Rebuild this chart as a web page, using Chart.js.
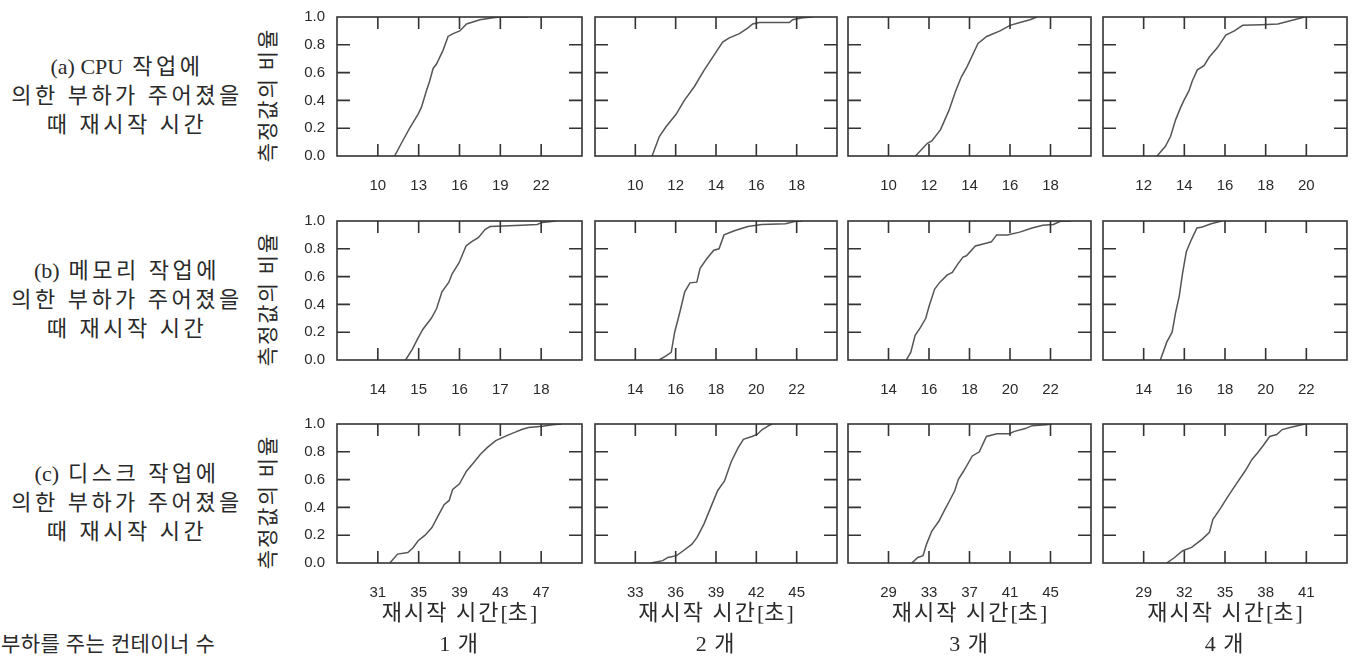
<!DOCTYPE html>
<html>
<head>
<meta charset="utf-8">
<script src="https://cdn.jsdelivr.net/npm/chart.js@4.4.0/dist/chart.umd.min.js"></script>
<style>
  body{margin:0;background:#fff;}
  #wrap{position:relative;width:1353px;height:664px;overflow:hidden;background:#fff;}
  #wrap canvas{position:absolute;}
  .lbl{position:absolute;font-family:'Liberation Serif','Noto Sans CJK KR',serif;font-size:22px;color:#2a2a2a;
       white-space:nowrap;letter-spacing:2px;transform:translate(-50%,-50%);line-height:1;}
  .lbl span{letter-spacing:0;}
  .row{letter-spacing:3.5px;}
  .left{transform:translate(0,-50%);letter-spacing:0.4px;font-size:21px;}
  .ytitle{position:absolute;font-family:'Noto Sans CJK KR',sans-serif;font-size:21px;color:#2a2a2a;white-space:nowrap;
       letter-spacing:2px;line-height:1;transform:translate(-50%,-50%) rotate(-90deg);}
</style>
</head>
<body>
<div id="wrap"></div>
<script>
// CPU load, 1..4 containers: restart time [s] vs cumulative share
const cpu1T = [11.23, 11.72, 12.34, 12.95, 13.2, 13.57, 13.81, 14.06, 14.3, 14.79, 15.16, 15.53, 16.02, 16.52, 17.5, 18.48, 18.97, 21.0];
const cpu1P = [0, 0.09, 0.2, 0.3, 0.35, 0.47, 0.54, 0.63, 0.66, 0.76, 0.86, 0.88, 0.9, 0.95, 0.98, 0.995, 1, 1];
const cpu2T = [10.83, 11.19, 11.52, 12.02, 12.43, 12.93, 13.42, 13.83, 14.33, 14.66, 15.16, 15.57, 15.82, 16.15, 17.64, 17.8, 18.3, 18.8];
const cpu2P = [0, 0.14, 0.21, 0.3, 0.4, 0.5, 0.62, 0.71, 0.82, 0.85, 0.88, 0.92, 0.95, 0.96, 0.96, 0.98, 0.995, 1];
const cpu3T = [11.33, 11.91, 12.15, 12.57, 12.99, 13.32, 13.6, 13.87, 14.42, 14.85, 15.51, 16.0, 16.49, 16.99, 17.32];
const cpu3P = [0, 0.09, 0.11, 0.19, 0.33, 0.47, 0.57, 0.64, 0.81, 0.86, 0.9, 0.94, 0.96, 0.98, 1];
const cpu4T = [12.66, 13.07, 13.32, 13.57, 13.82, 13.98, 14.23, 14.39, 14.64, 14.97, 15.22, 15.63, 16.04, 16.46, 16.87, 17.78, 18.6, 19.26, 19.92];
const cpu4P = [0, 0.07, 0.14, 0.26, 0.35, 0.4, 0.47, 0.54, 0.62, 0.65, 0.71, 0.78, 0.87, 0.9, 0.94, 0.945, 0.95, 0.975, 1];

// memory load
const mem1T = [14.68, 14.85, 14.97, 15.1, 15.31, 15.44, 15.57, 15.74, 15.82, 15.99, 16.16, 16.29, 16.46, 16.63, 16.75, 17.52, 17.9, 18.03, 18.36];
const mem1P = [0, 0.08, 0.15, 0.22, 0.3, 0.37, 0.49, 0.56, 0.62, 0.7, 0.82, 0.85, 0.88, 0.94, 0.96, 0.97, 0.975, 0.99, 1];
const mem2T = [15.18, 15.52, 15.78, 15.95, 16.2, 16.45, 16.71, 17.05, 17.21, 17.55, 17.89, 18.15, 18.4, 18.91, 19.58, 20.26, 21.45, 21.95, 22.3];
const mem2P = [0, 0.03, 0.055, 0.2, 0.34, 0.49, 0.555, 0.56, 0.66, 0.73, 0.79, 0.8, 0.9, 0.93, 0.96, 0.975, 0.98, 0.998, 1];
const mem3T = [14.88, 15.1, 15.31, 15.58, 15.84, 16.01, 16.28, 16.54, 16.89, 17.15, 17.42, 17.68, 17.85, 18.29, 18.82, 19.08, 19.34, 19.87, 20.48, 21.09, 21.62, 22.14, 22.49, 23.02];
const mem3P = [0, 0.055, 0.175, 0.235, 0.3, 0.39, 0.51, 0.56, 0.61, 0.63, 0.69, 0.74, 0.75, 0.82, 0.84, 0.85, 0.9, 0.9, 0.92, 0.95, 0.97, 0.975, 0.998, 1];
const mem4T = [14.82, 15.14, 15.4, 15.57, 15.75, 15.92, 16.1, 16.36, 16.62, 16.88, 17.32, 17.84];
const mem4P = [0, 0.13, 0.2, 0.34, 0.46, 0.63, 0.78, 0.87, 0.95, 0.957, 0.98, 1];

// disk load
const disk1T = [32.18, 32.93, 33.94, 34.45, 34.95, 35.63, 36.3, 36.98, 37.49, 37.99, 38.33, 39.0, 39.68, 40.36, 41.03, 41.71, 42.55, 43.74, 44.41, 45.09, 45.76, 47.11, 48.13, 48.97];
const disk1P = [0, 0.064, 0.076, 0.11, 0.16, 0.2, 0.255, 0.35, 0.42, 0.45, 0.53, 0.57, 0.66, 0.72, 0.78, 0.83, 0.88, 0.92, 0.94, 0.96, 0.975, 0.983, 0.995, 1];
const disk2T = [34.15, 35.04, 35.42, 36.06, 36.57, 37.21, 37.59, 38.1, 38.61, 39.12, 39.63, 40.14, 40.65, 41.04, 41.67, 42.06, 42.44, 42.95, 43.2];
const disk2P = [0, 0.017, 0.04, 0.053, 0.088, 0.136, 0.184, 0.28, 0.4, 0.52, 0.59, 0.73, 0.83, 0.89, 0.91, 0.925, 0.96, 0.99, 1];
const disk3T = [31.3, 31.89, 32.41, 32.76, 33.28, 33.97, 34.5, 35.02, 35.54, 35.89, 36.41, 37.28, 37.97, 38.67, 39.71, 40.93, 41.45, 42.5, 43.19, 44.58, 45.1];
const disk3P = [0, 0.04, 0.053, 0.136, 0.23, 0.3, 0.375, 0.446, 0.52, 0.6, 0.66, 0.77, 0.8, 0.91, 0.93, 0.93, 0.947, 0.967, 0.988, 0.995, 1];
const disk4T = [30.7, 31.23, 31.88, 32.54, 33.32, 33.85, 34.11, 34.63, 35.16, 35.81, 36.47, 36.99, 37.38, 37.78, 38.3, 38.82, 39.22, 39.87, 40.66, 40.92];
const disk4P = [0, 0.036, 0.088, 0.112, 0.172, 0.22, 0.315, 0.387, 0.47, 0.566, 0.66, 0.745, 0.79, 0.84, 0.91, 0.924, 0.96, 0.976, 0.995, 1];

// axis limits and tick labels
const cpuRange = [[7, 25], [8, 20], [8, 20], [10, 22]];
const memRange = [[13, 19], [12, 24], [12, 24], [12, 24]];
const diskRange = [[27, 51], [30, 48], [25, 49], [26, 44]];
const cpuTicks = [[10, 13, 16, 19, 22], [10, 12, 14, 16, 18], [10, 12, 14, 16, 18], [12, 14, 16, 18, 20]];
const memTicks = [[14, 15, 16, 17, 18], [14, 16, 18, 20, 22], [14, 16, 18, 20, 22], [14, 16, 18, 20, 22]];
const diskTicks = [[31, 35, 39, 43, 47], [33, 36, 39, 42, 45], [29, 33, 37, 41, 45], [29, 32, 35, 38, 41]];
const yTicks = [0, 0.2, 0.4, 0.6, 0.8, 1.0];

const rowLabels = [
  ["(a) CPU 작업에", "의한 부하가 주어졌을", "때 재시작 시간"],
  ["(b) 메모리 작업에", "의한 부하가 주어졌을", "때 재시작 시간"],
  ["(c) 디스크 작업에", "의한 부하가 주어졌을", "때 재시작 시간"]
];
const yTitle = "측정값의 비율";
const xTitle = "재시작 시간[초]";
const countTitle = "부하를 주는 컨테이너 수";
const counts = ["1 개", "2 개", "3 개", "4 개"];

// layout (pixels)
const rowTops = [17, 221, 424];
const colLefts = [337, 595, 848, 1103];
const colWidths = [245, 242, 243, 244];
const boxH = 139;

const wrap = document.getElementById('wrap');

const frame = {
  id: 'frame',
  afterDraw(chart){
    const {ctx, chartArea: a, scales: {x, y}} = chart;
    ctx.save();
    ctx.strokeStyle = '#333';
    ctx.lineWidth = 1.6;
    ctx.strokeRect(a.left, a.top, a.right - a.left, a.bottom - a.top);
    ctx.beginPath();
    x.ticks.forEach(t => {
      const p = x.getPixelForValue(t.value);
      ctx.moveTo(p, a.bottom); ctx.lineTo(p, a.bottom - 12);
      ctx.moveTo(p, a.top); ctx.lineTo(p, a.top + 12);
    });
    y.ticks.forEach(t => {
      if(t.value <= 0 || t.value >= 1) return;
      const p = y.getPixelForValue(t.value);
      ctx.moveTo(a.left, p); ctx.lineTo(a.left + 13, p);
      ctx.moveTo(a.right, p); ctx.lineTo(a.right - 13, p);
    });
    ctx.stroke();
    ctx.restore();
  }
};

function makePanel(r, c, times, props, range, ticks){
  const padT = 6, padR = 6, yW = 50, xH = 44;
  const w = colWidths[c] + yW + padR, h = boxH + padT + xH;
  const cv = document.createElement('canvas');
  cv.width = w; cv.height = h;
  cv.style.left = (colLefts[c] - yW) + 'px';
  cv.style.top = (rowTops[r] - padT) + 'px';
  cv.style.width = w + 'px'; cv.style.height = h + 'px';
  wrap.appendChild(cv);

  new Chart(cv, {
    type: 'line',
    data: {
      datasets: [{
        data: times.map((t, i) => ({x: t, y: props[i]})),
        borderColor: '#555', borderWidth: 1.5, pointRadius: 0, tension: 0, fill: false
      }]
    },
    options: {
      responsive: false, animation: false, events: [],
      layout: {padding: {top: padT, right: padR, left: 0, bottom: 0}},
      plugins: {legend: {display: false}, tooltip: {enabled: false}},
      scales: {
        x: {
          type: 'linear', min: range[0], max: range[1],
          grid: {display: false, drawTicks: false}, border: {display: false},
          afterBuildTicks: s => { s.ticks = ticks.map(v => ({value: v})); },
          afterFit: s => { s.height = xH; s.paddingLeft = 0; s.paddingRight = 0; },
          ticks: {padding: 21, maxRotation: 0, autoSkip: false, color: '#2a2a2a',
                  font: {family: 'Liberation Sans', size: 15}}
        },
        y: {
          min: 0, max: 1,
          grid: {display: false, drawTicks: false}, border: {display: false},
          afterBuildTicks: s => { s.ticks = yTicks.map(v => ({value: v})); },
          afterFit: s => { s.width = yW; s.paddingTop = 0; s.paddingBottom = 0; },
          ticks: {display: c === 0, padding: 12, color: '#2a2a2a',
                  callback: v => Number(v).toFixed(1),
                  font: {family: 'Liberation Sans', size: 15}}
        }
      }
    },
    plugins: [frame]
  });
}

// latin runs ("(a) CPU", "[", digits) keep normal spacing
function addText(cls, txt, x, y){
  const d = document.createElement('div');
  d.className = cls;
  txt.split(/([\x21-\x7e]+(?: [\x21-\x7e]+)*)/).forEach(part => {
    if(!part) return;
    if(/^[\x21-\x7e]/.test(part)){
      const s = document.createElement('span');
      s.textContent = part;
      d.appendChild(s);
    } else {
      d.appendChild(document.createTextNode(part));
    }
  });
  d.style.left = x + 'px';
  d.style.top = y + 'px';
  wrap.appendChild(d);
}

const rows = [
  [[cpu1T, cpu1P], [cpu2T, cpu2P], [cpu3T, cpu3P], [cpu4T, cpu4P]],
  [[mem1T, mem1P], [mem2T, mem2P], [mem3T, mem3P], [mem4T, mem4P]],
  [[disk1T, disk1P], [disk2T, disk2P], [disk3T, disk3P], [disk4T, disk4P]]
];
const ranges = [cpuRange, memRange, diskRange];
const tickSets = [cpuTicks, memTicks, diskTicks];

rows.forEach((row, r) => {
  row.forEach((s, c) => makePanel(r, c, s[0], s[1], ranges[r][c], tickSets[r][c]));
  const yt = document.createElement('div');
  yt.className = 'ytitle';
  yt.textContent = yTitle;
  yt.style.left = '266px';
  yt.style.top = (rowTops[r] + 78) + 'px';
  wrap.appendChild(yt);
  rowLabels[r].forEach((t, i) => addText('lbl row', t, 127, rowTops[r] + 50 + i * 29));
});

colLefts.forEach((l, c) => {
  const cx = l + colWidths[c] / 2;
  addText('lbl', xTitle, cx, 613);
  addText('lbl', counts[c], cx, 644);
});
addText('lbl left', countTitle, 1, 644);
</script>
</body>
</html>
